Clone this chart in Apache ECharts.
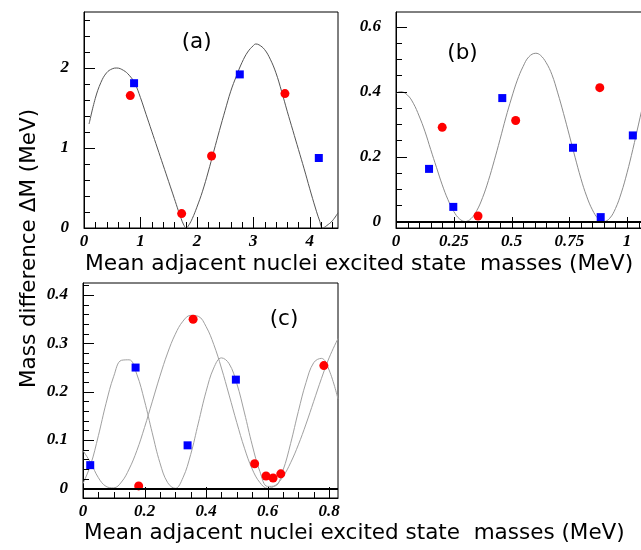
<!DOCTYPE html>
<html>
<head>
<meta charset="utf-8">
<script src="https://cdn.jsdelivr.net/npm/echarts@6.0.0/dist/echarts.min.js"></script>
<style>
  html, body { margin: 0; padding: 0; background: #fff; }
  #chart { width: 641px; height: 550px; }
</style>
</head>
<body>
<div id="chart"></div>
<script>
// ---- panel (a) ----
const aRedX = [0.82, 1.73, 2.26, 3.56];
const aRedY = [1.655, 0.18, 0.90, 1.68];
const aBlueX = [0.887, 2.76, 4.16];
const aBlueY = [1.81, 1.92, 0.875];
const aCurveX = [0.09, 0.2, 0.3, 0.4, 0.5, 0.58, 0.7, 0.8, 0.9, 1.0, 1.1, 1.2, 1.3, 1.4, 1.5, 1.6, 1.67, 1.72, 1.76, 1.81, 1.86, 1.92, 2.0, 2.1, 2.2, 2.3, 2.4, 2.5, 2.6, 2.7, 2.8, 2.9, 3.0, 3.04, 3.1, 3.2, 3.3, 3.4, 3.5, 3.6, 3.7, 3.8, 3.9, 4.0, 4.1, 4.17, 4.23, 4.3, 4.4, 4.5];
const aCurveY = [1.30, 1.62, 1.82, 1.94, 1.99, 2.00, 1.97, 1.91, 1.81, 1.63, 1.42, 1.21, 1.00, 0.79, 0.58, 0.37, 0.22, 0.12, 0.05, 0.00, 0.04, 0.12, 0.26, 0.46, 0.70, 0.96, 1.22, 1.47, 1.71, 1.90, 2.07, 2.20, 2.28, 2.30, 2.29, 2.23, 2.11, 1.94, 1.71, 1.46, 1.22, 0.98, 0.74, 0.49, 0.25, 0.10, 0.00, 0.03, 0.09, 0.19];
const aXLabels = [0, 1, 2, 3, 4];
const aYLabels = [0, 1, 2];

// ---- panel (b) ----
const bRedX = [0.20, 0.355, 0.518, 0.882];
const bRedY = [0.29, 0.017, 0.311, 0.412];
const bBlueX = [0.143, 0.248, 0.46, 0.766, 0.886, 1.025];
const bBlueY = [0.162, 0.045, 0.38, 0.227, 0.0135, 0.265];
const bCurveX = [0, 0.02, 0.05, 0.075, 0.1, 0.125, 0.15, 0.175, 0.2, 0.225, 0.25, 0.275, 0.3, 0.325, 0.35, 0.375, 0.4, 0.425, 0.45, 0.475, 0.5, 0.525, 0.55, 0.575, 0.605, 0.625, 0.65, 0.675, 0.7, 0.725, 0.75, 0.775, 0.8, 0.825, 0.85, 0.875, 0.9, 0.925, 0.95, 0.975, 1.0, 1.025, 1.05, 1.075, 1.1];
const bCurveY = [0.395, 0.400, 0.389, 0.364, 0.325, 0.278, 0.222, 0.167, 0.113, 0.067, 0.031, 0.008, 0.000, 0.009, 0.034, 0.074, 0.126, 0.187, 0.252, 0.319, 0.380, 0.435, 0.477, 0.507, 0.518, 0.512, 0.489, 0.452, 0.396, 0.333, 0.266, 0.198, 0.133, 0.078, 0.036, 0.009, 0.000, 0.010, 0.040, 0.088, 0.150, 0.222, 0.300, 0.378, 0.450];
const bXLabels = [0, 0.25, 0.5, 0.75, 1];
const bYLabels = [0, 0.2, 0.4, 0.6];

// ---- panel (c) ----
const cRedX = [0.181, 0.358, 0.558, 0.595, 0.618, 0.643, 0.783];
const cRedY = [0.005, 0.35, 0.051, 0.0255, 0.0215, 0.030, 0.254];
const cBlueX = [0.0235, 0.171, 0.34, 0.497];
const cBlueY = [0.048, 0.25, 0.089, 0.225];
const cCurveX = [0, 0.025, 0.05, 0.075, 0.1, 0.125, 0.15, 0.175, 0.2, 0.225, 0.25, 0.275, 0.3, 0.325, 0.35, 0.375, 0.4, 0.425, 0.45, 0.475, 0.5, 0.525, 0.55, 0.575, 0.6, 0.625, 0.65, 0.675, 0.7, 0.725, 0.75, 0.775, 0.8, 0.829];
const cSmallY = [0.010, 0.049, 0.109, 0.176, 0.232, 0.265, 0.266, 0.236, 0.181, 0.115, 0.053, 0.012, 0.000, 0.022, 0.070, 0.135, 0.200, 0.249, 0.270, 0.258, 0.217, 0.156, 0.090, 0.035, 0.004, 0.005, 0.037, 0.093, 0.159, 0.219, 0.260, 0.269, 0.245, 0.185];
const cBigY = [0.078, 0.053, 0.022, 0.004, 0.001, 0.013, 0.040, 0.078, 0.126, 0.179, 0.232, 0.280, 0.319, 0.346, 0.358, 0.356, 0.335, 0.298, 0.249, 0.193, 0.136, 0.083, 0.040, 0.012, 0.000, 0.006, 0.024, 0.053, 0.090, 0.133, 0.180, 0.227, 0.270, 0.310];
const cXLabels = [0, 0.2, 0.4, 0.6, 0.8];
const cYLabels = [0, 0.1, 0.2, 0.3, 0.4];

function steps(from, to, step) {
  const out = [];
  for (let v = from; v <= to + 1e-9; v += step) out.push(Math.round(v * 1000) / 1000);
  return out;
}
const pair = (xs, ys) => xs.map((x, i) => [x, ys[i]]);

const panels = [
  { rect: { left: 84, top: 12, width: 254, height: 216 }, x: [0, 4.5], y: [0, 2.7],
    xLab: aXLabels, yLab: aYLabels, xMinor: steps(0, 4.4, 0.2), yMinor: steps(0, 2.6, 0.2) },
  { rect: { left: 396, top: 12, width: 256, height: 216 }, x: [0, 1.108], y: [-0.02, 0.645],
    xLab: bXLabels, yLab: bYLabels, xMinor: steps(0, 1.1, 0.05), yMinor: steps(0, 0.6, 0.05) },
  { rect: { left: 83, top: 283, width: 255, height: 215 }, x: [0, 0.829], y: [-0.02, 0.425],
    xLab: cXLabels, yLab: cYLabels, xMinor: steps(0, 0.8, 0.05), yMinor: steps(0, 0.42, 0.02) }
];

const tickFont = { fontFamily: 'Liberation Serif', fontWeight: 'bold', fontStyle: 'italic', fontSize: 17, color: '#000' };

const grid = [], xAxis = [], yAxis = [];
panels.forEach((p, i) => {
  grid.push(Object.assign({ show: true, borderColor: '#000', borderWidth: 1, outerBoundsMode: 'none' }, p.rect));
  xAxis.push({
    type: 'value', gridIndex: i, min: p.x[0], max: p.x[1],
    axisLine: { show: true, onZero: false, lineStyle: { color: '#000', width: 1 } },
    axisTick: { show: false },
    axisLabel: Object.assign({ customValues: p.xLab, margin: 5 }, tickFont),
    splitLine: { show: false }
  });
  yAxis.push({
    type: 'value', gridIndex: i, min: p.y[0], max: p.y[1],
    axisLine: { show: true, onZero: false, lineStyle: { color: '#000', width: 1 } },
    axisTick: { show: false },
    axisLabel: Object.assign({ customValues: p.yLab, margin: 15 }, tickFont),
    splitLine: { show: false }
  });
});

const zeroLine = {
  symbol: 'none', silent: true, label: { show: false },
  lineStyle: { color: '#000', width: 2, type: 'solid' },
  data: [{ yAxis: 0 }]
};
const curve = (idx, data, color, extra) => Object.assign({
  type: 'line', xAxisIndex: idx, yAxisIndex: idx, data: data,
  showSymbol: false, smooth: 0.4, silent: true,
  lineStyle: { color: color, width: 1 }, z: 2
}, extra || {});
const dots = (idx, xs, ys) => ({
  type: 'scatter', xAxisIndex: idx, yAxisIndex: idx, data: pair(xs, ys),
  symbol: 'circle', symbolSize: 9, itemStyle: { color: '#ff0000', opacity: 1 }, z: 4
});
const squares = (idx, xs, ys) => ({
  type: 'scatter', xAxisIndex: idx, yAxisIndex: idx, data: pair(xs, ys),
  symbol: 'rect', symbolSize: 8, itemStyle: { color: '#0000ff', opacity: 1 }, z: 4
});

const series = [
  curve(0, pair(aCurveX, aCurveY), '#555'),
  dots(0, aRedX, aRedY),
  squares(0, aBlueX, aBlueY),

  curve(1, pair(bCurveX, bCurveY), '#8c8c8c', { markLine: zeroLine }),
  dots(1, bRedX, bRedY),
  squares(1, bBlueX, bBlueY),

  curve(2, pair(cCurveX, cSmallY), '#a0a0a0', { markLine: zeroLine }),
  curve(2, pair(cCurveX, cBigY), '#a0a0a0'),
  dots(2, cRedX, cRedY),
  squares(2, cBlueX, cBlueY)
];

const txt = (x, y, text, extra) => ({
  type: 'text', x: x, y: y, z: 10, silent: true,
  style: Object.assign({ text: text, fill: '#000', fontFamily: 'DejaVu Sans', fontSize: 21.5, align: 'left', verticalAlign: 'middle' }, extra || {})
});
const texts = [
  txt(85, 264.5, 'Mean adjacent nuclei excited state  masses (MeV)', { fontSize: 21.8 }),
  txt(84, 533, 'Mean adjacent nuclei excited state  masses (MeV)'),
  Object.assign(txt(29, 248.5, 'Mass difference \u0394M (MeV)', { align: 'center' }), { rotation: Math.PI / 2 }),
  txt(196.7, 42.5, '(a)', { align: 'center' }),
  txt(462.5, 53.3, '(b)', { align: 'center' }),
  txt(284, 319, '(c)', { align: 'center' })
];

const chart = echarts.init(document.getElementById('chart'), null, { renderer: 'canvas' });
chart.setOption({
  animation: false,
  backgroundColor: '#fff',
  grid: grid,
  xAxis: xAxis,
  yAxis: yAxis,
  series: series
});

// inward frame ticks, placed with the chart's own axis conversion
const tickEls = [];
try {
  panels.forEach((p, i) => {
    const finder = { xAxisIndex: i, yAxisIndex: i };
    const seg = (x1, y1, x2, y2) => tickEls.push({
      type: 'line', silent: true, z: 5,
      shape: { x1: x1, y1: y1, x2: x2, y2: y2 },
      style: { stroke: '#000', lineWidth: 1 }
    });
    const xt = (vals, len) => vals.forEach(v => {
      const pt = chart.convertToPixel(finder, [v, p.y[0]]);
      const x = Math.round(pt[0]) + 0.5, y = Math.round(pt[1]);
      seg(x, y, x, y - len);
    });
    const yt = (vals, len) => vals.forEach(v => {
      const pt = chart.convertToPixel(finder, [p.x[0], v]);
      const x = Math.round(pt[0]), y = Math.round(pt[1]) + 0.5;
      seg(x, y, x + len, y);
    });
    xt(p.xMinor, 6); xt(p.xLab, 11);
    yt(p.yMinor, 6); yt(p.yLab, 11);
  });
} catch (e) { /* keep the chart without ticks */ }

chart.setOption({ graphic: texts.concat(tickEls) });
</script>
</body>
</html>
